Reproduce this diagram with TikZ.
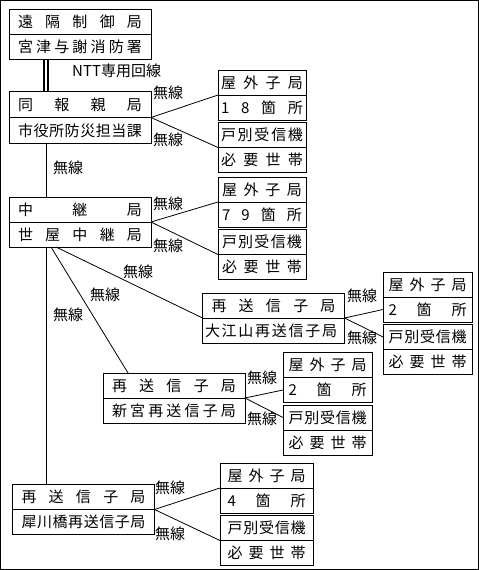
\documentclass[tikz,border=0pt]{standalone}
\usepackage{fontspec}
\setmainfont{Noto Sans CJK JP}
\usetikzlibrary{calc}
\newcommand{\spread}[2][124pt]{\makebox[#1][s]{\spaceskip=0pt plus 1fil\relax #2}}
\tikzset{
  cell/.style={draw, line width=0.8pt, outer sep=0pt, inner sep=0pt, minimum width=142pt, minimum height=25pt, font=\fontsize{15}{15}\selectfont},
  subcell/.style={cell, minimum width=88pt},
  link/.style={line width=0.8pt},
  trunkline/.style={line width=1.5pt},
  tag/.style={inner sep=0pt, font=\fontsize{15}{15}\selectfont},
  frame/.style={line width=1pt}
}
\begin{document}
\begin{tikzpicture}[x=1pt,y=-1pt]
  \useasboundingbox (0,0) rectangle (479,570);
  \draw[frame] (0.5,0.5) rectangle (478.5,569.5);

  % main stations
  \node[cell] (remote) at (80,21.5) {\spread{遠 隔 制 御 局}};
  \node[cell] (remote-sub) at (80,46.5) {\spread{宮 津 与 謝 消 防 署}};
  \node[cell, minimum height=26pt] (base) at (80,104.5) {\spread{同 報 親 局}};
  \node[cell, minimum height=26pt] (base-sub) at (80,130.5) {\spread{市 役 所 防 災 担 当 課}};
  \node[cell] (relay) at (80,209.5) {\spread{中 継 局}};
  \node[cell] (relay-sub) at (80,234.5) {\spread{世 屋 中 継 局}};
  \node[cell] (oe) at (273.5,305.5) {\spread{再 送 信 子 局}};
  \node[cell] (oe-sub) at (273.5,330.5) {\spread[132pt]{大 江 山 再 送 信 子 局}\hspace*{5pt}};
  \node[cell] (shingu) at (174,385.5) {\spread{再 送 信 子 局}};
  \node[cell] (shingu-sub) at (174,410.5) {\spread{新 宮 再 送 信 子 局}};
  \node[cell] (sai) at (83.5,497) {\spread{再 送 信 子 局}};
  \node[cell] (sai-sub) at (83.5,522) {\spread{犀 川 橋 再 送 信 子 局}};

  % receivers
  \foreach \n/\x/\y/\w/\tw/\cnt in {base/262/82.5/88/82/{1 8 箇 所}, relay/262/189.5/88/80/{7 9 箇 所}, oe/427.5/284.5/89/78/{2 箇 所}, shingu/327.5/365/89/78/{2 箇 所}, sai/266.5/475.5/93/78/{4 箇 所}} {
    \node[subcell, minimum width=\w pt] (\n-out) at (\x,\y) {\spread[\tw pt]{屋 外 子 局}};
    \node[subcell, minimum width=\w pt] (\n-count) at (\x,\y+25) {\spread[\tw pt]{\cnt}};
    \node[subcell, minimum width=\w pt] (\n-home) at (\x,\y+52.5) {\spread[\tw pt]{戸 別 受 信 機}};
    \node[subcell, minimum width=\w pt] (\n-need) at (\x,\y+77.5) {\spread[\tw pt]{必 要 世 帯}};
  }

  % trunk lines
  \coordinate (trunk) at (46,0);
  \foreach \s in {-1.8,1.8}
    \draw[trunkline] ([xshift=\s pt]remote-sub.south -| trunk) -- ([xshift=\s pt]base.north -| trunk);
  \draw[link] (base-sub.south -| trunk) -- (relay.north -| trunk);
  \draw[link] (relay-sub.south -| trunk) -- (sai.north -| trunk);
  \draw[link] ([xshift=47pt]relay-sub.south west) -- (oe-sub.north west);
  \draw[link] ([xshift=42pt]relay-sub.south west) -- ([xshift=25pt]shingu.north west);

  % fans to receivers
  \foreach \n in {base,relay,sai} {
    \draw[link] (\n.south east) -- (\n-out.south west);
    \draw[link] (\n.south east) -- (\n-home.south west);
  }
  \foreach \n in {oe,shingu} {
    \draw[link] (\n.south east) -- (\n-count.west);
    \draw[link] (\n.south east) -- (\n-home.west);
  }

  % labels
  \node[tag, anchor=west] (ntt) at (72,71) {NTT専用回線};
  \node[tag] (air-bc) at (68,168) {無線};
  \node[tag] (air-cd) at (138,272) {無線};
  \node[tag] (air-ce) at (105,295) {無線};
  \node[tag] (air-cf) at (68,315) {無線};
  \node[tag, anchor=west] (air-b1) at (153,93) {無線};
  \node[tag, anchor=west] (air-b2) at (153,140) {無線};
  \node[tag, anchor=west] (air-c1) at (153,204) {無線};
  \node[tag, anchor=west] (air-c2) at (153,246) {無線};
  \node[tag, anchor=west] (air-d1) at (347,296) {無線};
  \node[tag, anchor=west] (air-d2) at (347,338) {無線};
  \node[tag, anchor=west] (air-e1) at (247,377.5) {無線};
  \node[tag, anchor=west] (air-e2) at (247,419) {無線};
  \node[tag, anchor=west] (air-f1) at (155,488) {無線};
  \node[tag, anchor=west] (air-f2) at (155,534) {無線};
\end{tikzpicture}
\end{document}
